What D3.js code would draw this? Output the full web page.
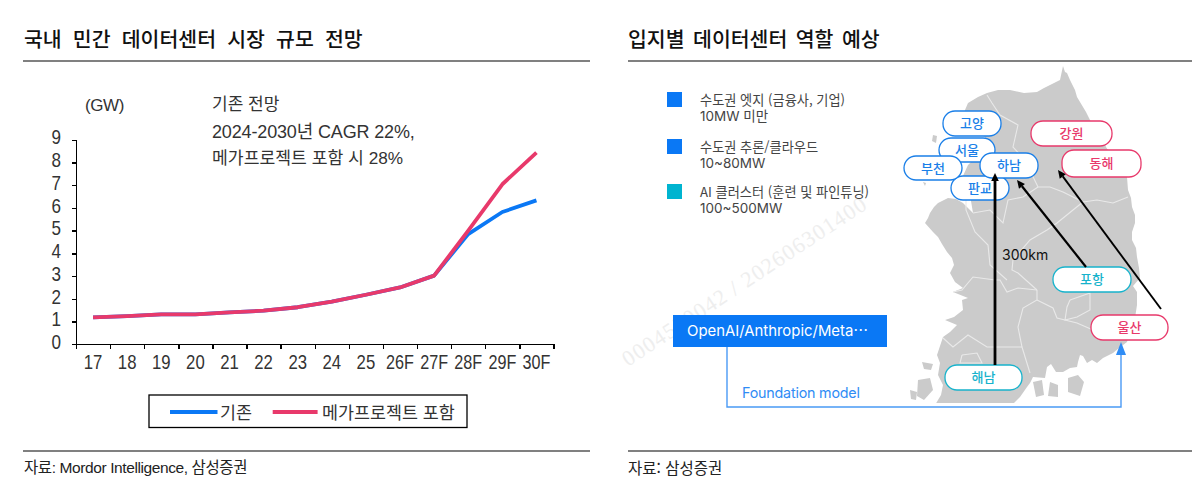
<!DOCTYPE html>
<html lang="ko">
<head>
<meta charset="utf-8">
<script src="https://cdn.jsdelivr.net/npm/d3@7/dist/d3.min.js"></script>
<style>
  html, body { margin: 0; padding: 0; background: #fff; }
  svg { display: block; }
  text { font-family: "Liberation Sans", "Noto Sans CJK KR", sans-serif; fill: #333; }
  .kr { font-family: "Noto Sans CJK KR", "Liberation Sans", sans-serif; }
  .ui { font-family: "Inter", "Noto Sans CJK KR", sans-serif; }
  .axis path, .axis line { stroke: #000; stroke-width: 1.4; shape-rendering: crispEdges; }
</style>
</head>
<body>
<svg id="page" width="1200" height="493" viewBox="0 0 1200 493"></svg>
<script>
// Market outlook series (GW)
const years = ["17","18","19","20","21","22","23","24","25","26F","27F","28F","29F","30F"];
const baseCase = [1.18,1.24,1.32,1.32,1.40,1.48,1.63,1.88,2.18,2.50,3.02,4.85,5.82,6.33];
const megaCase = [1.18,1.24,1.32,1.32,1.40,1.48,1.63,1.88,2.18,2.50,3.02,5.00,7.04,8.43];
const yTicks = [0,1,2,3,4,5,6,7,8,9];

// Site tiers listed beside the map
const tierLabels = [
  ["수도권 엣지 (금융사, 기업)", "10MW 미만"],
  ["수도권 추론/클라우드", "10~80MW"],
  ["AI 클러스터 (훈련 및 파인튜닝)", "100~500MW"]
];
const tierColors = ["#0a78f5", "#0a78f5", "#00b4d0"];

// Map geometry, in map units (origin at the map frame's corner)
const landOutline = [[163,6],[165,12],[167,13],[170,20],[175,30],[177,37],[180,42],[186,52],[190,60],[196,70],[202,77],[206,87],[210,93],[218,105],[227,117],[228,130],[231,138],[232,147],[235,155],[235,163],[232,172],[232,180],[236,188],[237,197],[239,208],[240,218],[233,226],[237,232],[237,245],[235,258],[231,270],[227,282],[219,288],[213,293],[203,298],[197,303],[192,300],[187,303],[183,296],[180,295],[178,302],[177,307],[170,308],[163,312],[156,312],[151,304],[147,307],[145,318],[133,317],[130,323],[127,327],[120,337],[112,345],[35,345],[41,335],[43,325],[38,315],[40,303],[37,295],[40,286],[43,277],[50,272],[57,265],[45,260],[54,257],[63,250],[62,240],[68,238],[53,232],[63,228],[55,222],[50,213],[54,205],[52,198],[47,192],[42,184],[38,177],[33,172],[25,163],[28,158],[30,153],[34,147],[38,143],[48,138],[56,139],[63,143],[73,153],[70,135],[62,118],[68,105],[83,90],[85,77],[60,65],[65,50],[68,43],[78,37],[87,33],[98,30],[110,30],[124,33],[137,32],[144,28],[150,25],[156,22],[160,20]];
const islands = [
  [[133,322],[142,320],[144,335],[136,337]],
  [[150,322],[158,325],[158,337],[148,336]],
  [[168,318],[178,315],[184,322],[180,336],[168,332]],
  [[22,302],[33,304],[31,310],[24,309]],
  [[18,320],[30,318],[33,330],[24,340],[17,336]],
  [[10,330],[17,332],[16,340],[11,339]],
  [[33,75],[37,76],[36,83],[32,81]],
  [[23,122],[26,123],[25,126]]
];
const provinceLines = [
  [[87,35],[92,43],[100,55],[118,65],[113,87],[125,100],[138,127],[150,127],[163,132],[183,142],[197,140],[213,143],[228,137]],
  [[73,153],[90,150],[103,163],[108,140],[123,137],[138,127]],
  [[183,142],[173,150],[157,163],[147,170],[130,180],[113,200],[112,210],[118,213],[137,230]],
  [[137,230],[137,240],[123,248],[118,267],[122,287],[130,313]],
  [[137,240],[153,248],[157,258],[177,263],[193,270]],
  [[137,230],[118,228],[107,232],[100,220],[95,220],[73,217],[62,230],[53,232]],
  [[122,287],[87,287],[68,275],[53,287],[43,278]],
  [[170,240],[190,233],[190,250],[177,257],[165,260],[167,247],[170,240]],
  [[62,295],[77,293],[82,303],[60,303],[62,295]],
  [[66,120],[66,150],[75,172],[88,185],[90,205],[107,220]]
];
const sites = [
  { name: "고양", kind: "metro", box: [43,51,58,25] },
  { name: "서울", kind: "metro", box: [39,78,56,24] },
  { name: "판교", kind: "metro", box: [51,116,58,24] },
  { name: "부천", kind: "metro", box: [4,96,58,24] },
  { name: "하남", kind: "metro", box: [80,93,58,25] },
  { name: "강원", kind: "power", box: [131,61,81,25] },
  { name: "동해", kind: "power", box: [162,90,79,27] },
  { name: "포항", kind: "cluster", box: [153,207,78,25] },
  { name: "울산", kind: "power", box: [191,255,77,25] },
  { name: "해남", kind: "cluster", box: [45,305,77,25] }
];
const siteColors = { metro: "#1a7fe8", power: "#e8396b", cluster: "#17b3cc" };
const routes = [
  { from: [95,305], to: [95,113], width: 2.8 },
  { from: [186,207], to: [117,120], width: 2.2 },
  { from: [261,249], to: [158,110], width: 1.9 }
];

const svg = d3.select("#page");

function rule(x1, x2, y) {
  svg.append("line").attr("x1", x1).attr("x2", x2).attr("y1", y).attr("y2", y)
    .attr("stroke", "#808080").attr("stroke-width", 2);
}
function label(parent, x, y, str, size, opts = {}) {
  return parent.append("text").attr("x", x).attr("y", y).text(str)
    .attr("font-size", size)
    .attr("class", opts.cls || null)
    .attr("text-anchor", opts.anchor || "start")
    .attr("dominant-baseline", "central")
    .attr("font-weight", opts.weight || null)
    .style("fill", opts.fill || null)
    .style("letter-spacing", opts.spacing || null)
    .style("word-spacing", opts.words || null);
}
// Squeezes tick text to a condensed width
function condense(selection, perChar) {
  selection.attr("textLength", d => String(d).length * perChar)
    .attr("lengthAdjust", "spacingAndGlyphs");
}

// Faint stamp running behind the right panel
svg.append("text").attr("transform", "translate(628,367) rotate(-33.5)")
  .attr("font-size", 22).text("0004550042 / 202606301400")
  .style("font-family", "'Liberation Serif', serif").style("fill", "#eeeeee").style("letter-spacing", "1.2px");

// Panel headings and rules
label(svg, 24, 38, "국내 민간 데이터센터 시장 규모 전망", 20.5, { cls: "kr", weight: 500, fill: "#111", words: "5.4px" });
label(svg, 628, 38, "입지별 데이터센터 역할 예상", 20.5, { cls: "kr", weight: 500, fill: "#111", words: "2.7px" });
rule(23, 590, 61); rule(628, 1192, 61);
rule(23, 590, 451); rule(628, 1192, 451);
label(svg, 24, 467, "자료: Mordor Intelligence, 삼성증권", 15.5, { fill: "#222", spacing: "-0.4px" });
label(svg, 628, 467, "자료: 삼성증권", 15.5, { cls: "kr", fill: "#222" });

// ---- Left panel: line chart ----
const plot = { left: 76, right: 553.5, top: 139.7, bottom: 344.3 };
const x = d3.scaleBand().domain(years).range([plot.left, plot.right]);
const y = d3.scaleLinear().domain([0, 9]).range([plot.bottom, plot.top]);
const edgeScale = d3.scaleLinear().domain([0, years.length]).range([plot.left, plot.right]);

const chart = svg.append("g");
chart.append("g").attr("class", "axis").attr("transform", `translate(0,${plot.bottom})`)
  .call(d3.axisBottom(edgeScale).tickValues(d3.range(0, years.length + 1)).tickSize(5).tickSizeOuter(0).tickFormat(""));
const xLabels = chart.append("g").attr("class", "axis").attr("transform", `translate(0,${plot.bottom})`)
  .call(d3.axisBottom(x).tickSize(0).tickPadding(12));
xLabels.select(".domain").remove();
xLabels.selectAll("text").attr("font-size", 21).attr("dy", "0.62em")
  .style("font-family", "'Liberation Sans',sans-serif").style("fill", "#333")
  .call(condense, 9.3);

const yAxis = chart.append("g").attr("class", "axis").attr("transform", `translate(${plot.left},0)`)
  .call(d3.axisLeft(y).tickValues(yTicks).tickSize(4).tickSizeOuter(0).tickPadding(11));
yAxis.selectAll("text").attr("font-size", 21).attr("dy", "0.2em")
  .style("font-family", "'Liberation Sans',sans-serif").style("fill", "#333")
  .call(condense, 9.5);

const linePath = d3.line().x((d, i) => x(years[i]) + x.bandwidth() / 2).y(d => y(d));
[[baseCase, "#0a78f5"], [megaCase, "#e8396b"]].forEach(([vals, col]) => {
  chart.append("path").datum(vals).attr("d", linePath).attr("fill", "none")
    .attr("stroke", col).attr("stroke-width", 3.8).attr("stroke-linejoin", "round");
});

label(chart, 85, 105, "(GW)", 17, { fill: "#333", spacing: "-0.4px" });
label(chart, 212, 104, "기존 전망", 17, { fill: "#333" });
label(chart, 212, 132, "2024-2030년 CAGR 22%,", 18, { fill: "#333", spacing: "-0.15px" });
label(chart, 212, 158, "메가프로젝트 포함 시 28%", 17.2, { fill: "#333" });

// Legend
chart.append("rect").attr("x", 149).attr("y", 395).attr("width", 318).attr("height", 32.5)
  .attr("fill", "#fff").attr("stroke", "#000").attr("stroke-width", 1.3);
[[170, 217.5, "#0a78f5", "기존", 220], [272.7, 317.6, "#e8396b", "메가프로젝트 포함", 322]].forEach(([a, b, c, t, tx]) => {
  chart.append("line").attr("x1", a).attr("x2", b).attr("y1", 412).attr("y2", 412).attr("stroke", c).attr("stroke-width", 4.2);
  label(chart, tx, 411, t, 17.4, { cls: "kr", fill: "#333" });
});

// ---- Right panel: tier key ----
const key = svg.append("g");
tierLabels.forEach((lines, i) => {
  const top = [92, 139, 184][i];
  key.append("rect").attr("x", 667).attr("y", top).attr("width", 15).attr("height", 15).attr("fill", tierColors[i]);
  label(key, 700, top + 7, lines[0], 13.2, { cls: "kr", fill: "#444" });
  label(key, 700, top + 24, lines[1], 13.5, { cls: "ui", fill: "#444" });
});

// ---- Right panel: map ----
const mapX = d3.scaleLinear().domain([0, 300]).range([900, 1200]);
const mapY = d3.scaleLinear().domain([0, 300]).range([60, 360]);
const mapLine = d3.line().x(d => mapX(d[0])).y(d => mapY(d[1]));

svg.append("defs").append("clipPath").attr("id", "mapFrame").append("rect")
  .attr("x", 880).attr("y", 62).attr("width", 300).attr("height", 341);
const map = svg.append("g").attr("clip-path", "url(#mapFrame)");
map.append("path").attr("d", mapLine(landOutline) + "Z").attr("fill", "#cbcbcb");
map.selectAll(".isle").data(islands).join("path").attr("d", d => mapLine(d) + "Z").attr("fill", "#cbcbcb");
map.selectAll(".prov").data(provinceLines).join("path").attr("d", mapLine).attr("fill", "none")
  .attr("stroke", "#e9e9e9").attr("stroke-width", 1.1);

// Model provider box and its connector
svg.append("path").attr("fill", "none").attr("stroke", "#4a9af5").attr("stroke-width", 1.4)
  .attr("d", mapLine([[-173, 287], [-173, 347], [221, 347], [221, 285]]));
svg.append("path").attr("fill", "#2f8cf5")
  .attr("d", mapLine([[221, 282], [226, 295], [216, 295]]) + "Z");
svg.append("rect").attr("x", 673).attr("y", 315).attr("width", 214).attr("height", 32).attr("fill", "#0a78f5");
label(svg, 687, 331, "OpenAI/Anthropic/Meta⋯", 14.9, { cls: "ui", fill: "#fff" });
label(svg, 742, 392, "Foundation model", 14.3, { cls: "ui", fill: "#2f8cf5", spacing: "-0.2px" });

// Site pills
const pills = svg.selectAll(".site").data(sites).join("g");
pills.append("rect")
  .attr("x", d => mapX(d.box[0])).attr("y", d => mapY(d.box[1]))
  .attr("width", d => d.box[2]).attr("height", d => d.box[3])
  .attr("rx", 12).attr("ry", 12).attr("fill", "#fff")
  .attr("stroke", d => siteColors[d.kind]).attr("stroke-width", 1.3);
pills.append("text").attr("class", "kr")
  .attr("x", d => mapX(d.box[0] + d.box[2] / 2)).attr("y", d => mapY(d.box[1] + d.box[3] / 2) - 1)
  .attr("text-anchor", "middle").attr("dominant-baseline", "central")
  .attr("font-size", 13).attr("font-weight", 500)
  .style("fill", d => siteColors[d.kind]).text(d => d.name);

// Routes from the south towards the capital area
routes.forEach(r => {
  const dx = r.to[0] - r.from[0], dy = r.to[1] - r.from[1];
  const len = Math.hypot(dx, dy), ux = dx / len, uy = dy / len, head = 8, half = 3.8;
  const neck = [r.to[0] - ux * head, r.to[1] - uy * head];
  svg.append("path").attr("fill", "none").attr("stroke", "#000").attr("stroke-width", r.width)
    .attr("d", mapLine([r.from, neck]));
  svg.append("path").attr("fill", "#000").attr("d", mapLine([
    r.to,
    [neck[0] - uy * half, neck[1] + ux * half],
    [neck[0] + uy * half, neck[1] - ux * half]
  ]) + "Z");
});
label(svg, 1002, 254, "300km", 14, { cls: "ui", fill: "#111" });
</script>
</body>
</html>
